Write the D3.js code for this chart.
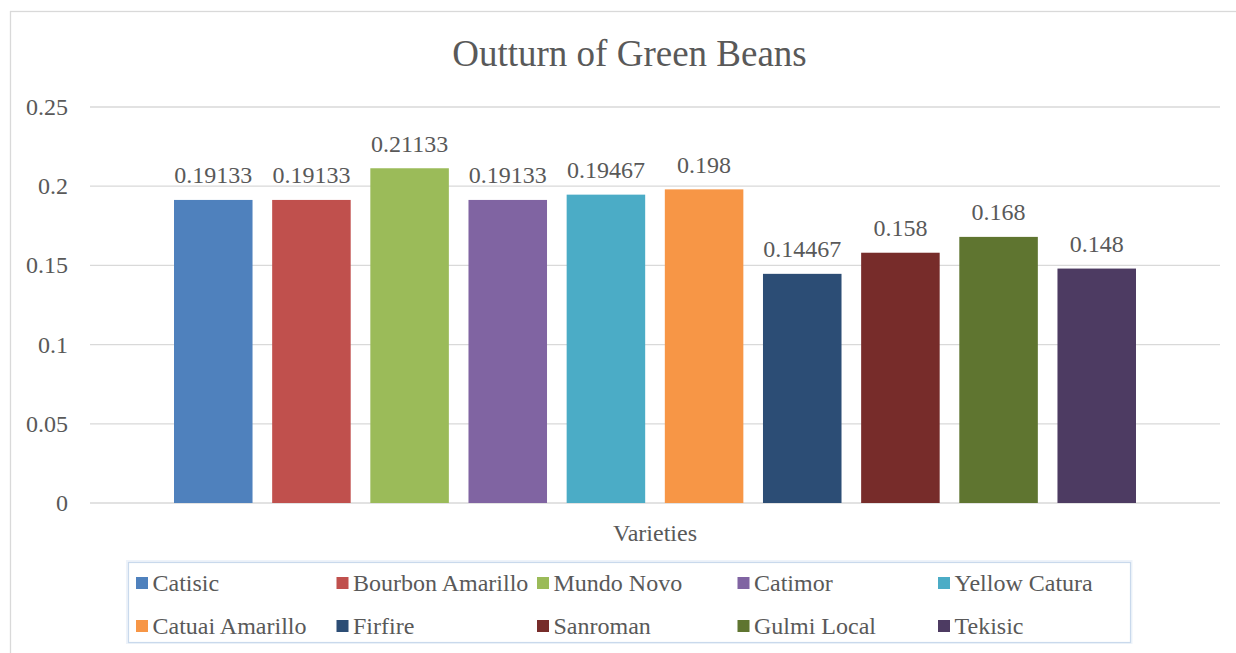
<!DOCTYPE html>
<html>
<head>
<meta charset="utf-8">
<script src="https://cdn.jsdelivr.net/npm/d3@7"></script>
<style>
  html, body { margin: 0; padding: 0; background: #fff; }
  svg { display: block; }
</style>
</head>
<body>
<svg id="chart" width="1236" height="653"></svg>
<script>
// Outturn of green beans per coffee variety
const varieties = ["Catisic", "Bourbon Amarillo", "Mundo Novo", "Catimor", "Yellow Catura",
                   "Catuai Amarillo", "Firfire", "Sanroman", "Gulmi Local", "Tekisic"];
const outturn = [0.19133, 0.19133, 0.21133, 0.19133, 0.19467, 0.198, 0.14467, 0.158, 0.168, 0.148];
const colors = ["#4f81bd", "#c0504d", "#9bbb59", "#8064a2", "#4bacc6",
                "#f79646", "#2c4d75", "#772c2a", "#5f7530", "#4d3b62"];
const yTicks = [0, 0.05, 0.1, 0.15, 0.2, 0.25];

const textColor = "#595959";
const serif = "Liberation Serif";
const svg = d3.select("#chart");

// shared text styling
function styleText(sel, size) {
  return sel.attr("font-family", serif).attr("font-size", size).attr("fill", textColor);
}

// chart frame
svg.append("rect")
  .attr("x", 10.5).attr("y", 11.5)
  .attr("width", 1240).attr("height", 660)
  .attr("fill", "#fff").attr("stroke", "#d9d9d9").attr("stroke-width", 1.3);

const plot = { left: 90, right: 1220, top: 107, bottom: 503 };

const y = d3.scaleLinear().domain([0, 0.25]).range([plot.bottom, plot.top]);
const x = d3.scaleBand().domain(varieties)
  .range([174, 1136]).paddingInner(0.2).paddingOuter(0);

// gridlines
svg.append("g").selectAll("line").data(yTicks).join("line")
  .attr("x1", plot.left).attr("x2", plot.right)
  .attr("y1", d => y(d)).attr("y2", d => y(d))
  .attr("stroke", "#d9d9d9").attr("stroke-width", 1.3);

// y axis labels
svg.append("g").selectAll("text").data(yTicks).join("text")
  .attr("x", 68).attr("y", d => y(d) + 8)
  .attr("text-anchor", "end")
  .call(styleText, 24)
  .text(d => d3.format("")(d));

// bars
svg.append("g").selectAll("rect").data(varieties).join("rect")
  .attr("x", d => x(d))
  .attr("width", x.bandwidth())
  .attr("y", (d, i) => y(outturn[i]))
  .attr("height", (d, i) => y(0) - y(outturn[i]))
  .attr("fill", (d, i) => colors[i]);

// value labels
svg.append("g").selectAll("text").data(varieties).join("text")
  .attr("x", d => x(d) + x.bandwidth() / 2)
  .attr("y", (d, i) => y(outturn[i]) - 16.5)
  .attr("text-anchor", "middle")
  .call(styleText, 24)
  .text((d, i) => outturn[i]);

// title
svg.append("text")
  .attr("x", 629.5).attr("y", 66)
  .attr("text-anchor", "middle")
  .call(styleText, 37)
  .text("Outturn of Green Beans");

// x axis title
svg.append("text")
  .attr("x", (plot.left + plot.right) / 2).attr("y", 540.5)
  .attr("text-anchor", "middle")
  .call(styleText, 24)
  .text("Varieties");

// legend
const legend = svg.append("g");
legend.append("rect")
  .attr("x", 127.5).attr("y", 561.5)
  .attr("width", 1003.5).attr("height", 81)
  .attr("fill", "none").attr("stroke", "#eef3fa").attr("stroke-width", 3);
legend.append("rect")
  .attr("x", 128.5).attr("y", 562.5)
  .attr("width", 1002).attr("height", 80)
  .attr("fill", "#fff").attr("stroke", "#c9d9ec").attr("stroke-width", 1.2);

const colStep = 200.5;
const items = legend.selectAll("g.item").data(varieties).join("g")
  .attr("class", "item")
  .attr("transform", (d, i) => `translate(${136 + (i % 5) * colStep},${577 + Math.floor(i / 5) * 43})`);
items.append("rect")
  .attr("width", 12).attr("height", 12)
  .attr("fill", (d, i) => colors[i]);
items.append("text")
  .attr("x", 16.5).attr("y", 14)
  .call(styleText, 24)
  .text(d => d);
</script>
</body>
</html>
